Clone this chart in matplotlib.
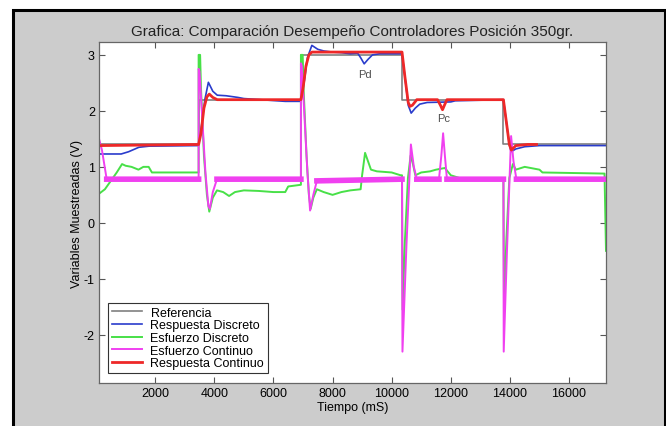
import numpy as np
import matplotlib
matplotlib.use("Agg")
import matplotlib.pyplot as plt
from matplotlib.patches import Rectangle

plt.rcParams['font.family'] = ['Liberation Sans', 'DejaVu Sans']
plt.rcParams['axes.unicode_minus'] = False

# ---------------- data ----------------
ref_t = [100, 3470, 3470, 6930, 6930, 10350, 10350, 13780, 13780, 17250]
ref_v = [1.4, 1.4, 2.2, 2.2, 3.0, 3.0, 2.2, 2.2, 1.4, 1.4]

bd_t = [100, 850, 1100, 1450, 1800, 3470, 3560, 3680, 3800, 3950, 4100, 4400, 4800, 5000,
        6400, 6930, 7050, 7150, 7300, 7500, 7700, 8000, 8300, 8600, 8850, 8950, 9070, 9200,
        9350, 9600, 10350, 10450, 10560, 10660, 10800, 10950, 11200, 12000, 12150, 13780,
        13880, 13980, 14040, 14200, 14500, 15000, 17250]
bd_v = [1.23, 1.23, 1.27, 1.35, 1.37, 1.38, 1.7, 2.2, 2.51, 2.35, 2.28, 2.27, 2.24, 2.22,
        2.17, 2.17, 2.55, 2.95, 3.17, 3.1, 3.07, 3.05, 3.04, 3.02, 3.03, 2.95, 2.84, 2.92,
        3.0, 3.02, 3.02, 2.6, 2.1, 1.96, 2.05, 2.12, 2.15, 2.16, 2.18, 2.2,
        1.8, 1.4, 1.27, 1.32, 1.36, 1.38, 1.38]

ed_t = [100, 300, 500, 700, 880, 1000, 1200, 1435, 1600, 1780, 1890, 3470, 3470, 3520,
        3550, 3650, 3750, 3830, 3950, 4090, 4300, 4500, 4700, 5000, 5500, 6000, 6400, 6500,
        6930, 6930, 6990, 7020, 7120, 7200, 7260, 7350, 7470, 7700, 8000, 8300, 8600, 8950,
        9000, 9100, 9200, 9300, 9500, 10000, 10300, 10350, 10370, 10450, 10550, 10640, 10720,
        10800, 11000, 11300, 11500, 11800, 12000, 12300, 13780, 13800, 13880, 13980, 14100,
        14200, 14500, 15000, 15100, 17200, 17250]
ed_v = [0.52, 0.6, 0.75, 0.9, 1.05, 1.02, 1.0, 0.95, 1.0, 1.0, 0.9, 0.9, 3.0, 3.0,
        2.4, 1.2, 0.5, 0.2, 0.45, 0.58, 0.55, 0.48, 0.55, 0.58, 0.57, 0.55, 0.55, 0.65,
        0.68, 3.0, 3.0, 2.4, 1.2, 0.5, 0.25, 0.45, 0.6, 0.55, 0.5, 0.55, 0.58, 0.6,
        0.85, 1.25, 1.1, 0.95, 0.92, 0.9, 0.85, 0.85, -1.55, -0.3, 0.8, 1.2, 1.05,
        0.85, 0.9, 0.92, 0.95, 0.98, 0.85, 0.8, 0.8, -1.5, -0.3, 0.8, 1.05,
        0.95, 1.0, 0.95, 0.9, 0.88, -0.5]

ec_t = [100, 200, 360, 3470, 3470, 3500, 3600, 3700, 3800, 3850, 3950, 4090, 6930, 6930,
        6960, 7050, 7150, 7240, 7350, 7470, 10350, 10365, 10500, 10650, 10750, 10850, 11600,
        11680, 11740, 11800, 11870, 13780, 13790, 13900, 14040, 14120, 14220, 17250]
ec_v = [1.5, 1.3, 0.78, 0.78, 2.75, 2.7, 1.8, 0.9, 0.3, 0.25, 0.55, 0.78, 0.78, 2.85,
        2.8, 1.9, 0.9, 0.22, 0.5, 0.75, 0.78, -2.3, -0.4, 1.4, 1.0, 0.78, 0.78,
        1.2, 1.6, 1.2, 0.78, 0.78, -2.3, -0.5, 1.55, 1.1, 0.78, 0.78]

rc_t = [100, 3470, 3550, 3650, 3750, 3830, 3950, 4100, 6930, 7000, 7100, 7200, 7300, 10350,
        10450, 10560, 10620, 10700, 10850, 11550, 11650, 11720, 11800, 11870, 13780, 13880,
        13980, 14050, 14200, 14600, 14900]
rc_v = [1.38, 1.4, 1.6, 2.05, 2.25, 2.3, 2.24, 2.2, 2.2, 2.4, 2.8, 3.0, 3.05, 3.05,
        2.6, 2.15, 2.08, 2.1, 2.2, 2.2, 2.1, 2.02, 2.12, 2.2, 2.2, 1.8,
        1.4, 1.3, 1.38, 1.4, 1.4]

labels = ['Referencia', 'Respuesta Discreto', 'Esfuerzo Discreto',
          'Esfuerzo Continuo', 'Respuesta Continuo']
colors = ['#808080', '#2a3ccc', '#48e048', '#f040f0', '#ee2828']
x_ticks = [2000, 4000, 6000, 8000, 10000, 12000, 14000, 16000]
y_ticks = [-2, -1, 0, 1, 2, 3]

# ---------------- figure ----------------
W, H = 666, 427
fig = plt.figure(figsize=(W / 100, H / 100), dpi=100, facecolor='white')
fig.patches.append(Rectangle((12.5 / W, -0.05), (664.5 - 12.5) / W, 1.05 - 10.5 / H,
                             transform=fig.transFigure, facecolor='#cccccc',
                             edgecolor='black', linewidth=2.2, zorder=-10))

ax = fig.add_axes([99 / W, 1 - 384 / H, 507 / W, 341 / H])
ax.set_zorder(5)
ax.set_facecolor('white')

ax.plot(ref_t, ref_v, color=colors[0], lw=1.2, label=labels[0])
ax.plot(bd_t, bd_v, color=colors[1], lw=1.2, label=labels[1])
ax.plot(ed_t, ed_v, color=colors[2], lw=1.4, label=labels[2])
ax.plot(ec_t, ec_v, color=colors[3], lw=1.4, label=labels[3])
ec_arr = np.array(ec_v)
ax.plot(ec_t, np.ma.masked_where(np.abs(ec_arr - 0.78) > 0.05, ec_arr),
        color=colors[3], lw=4.0)
ax.plot(rc_t, rc_v, color=colors[4], lw=2.0, label=labels[4])

ax.text(9100, 2.66, 'Pd', fontsize=8, color='#505050', ha='center', va='center')
ax.text(11770, 1.875, 'Pc', fontsize=8, color='#505050', ha='center', va='center')

ax.set_xlim(100, 17250)
ax.set_ylim(-2.86, 3.23)
ax.set_xticks(x_ticks)
ax.set_yticks(y_ticks)
ax.tick_params(direction='in', top=True, right=True, length=4, width=0.8,
               color='#555555', labelsize=9, pad=3)
for s in ax.spines.values():
    s.set_color('#666666')
    s.set_linewidth(0.9)

ax.set_title('Grafica: Comparación Desempeño Controladores Posición 350gr.',
             fontsize=11, color='#222222', pad=5)
ax.set_xlabel('Tiempo (mS)', fontsize=9, labelpad=1)
ax.set_ylabel('Variables Muestreadas (V)', fontsize=9, labelpad=0.5)

leg = ax.legend(loc='lower left', bbox_to_anchor=(9 / 507, 10 / 341), borderaxespad=0,
                fontsize=9, handlelength=2.4, labelspacing=0.05, borderpad=0.3,
                handletextpad=0.7, fancybox=False, framealpha=1, edgecolor='#333333')
leg.get_frame().set_linewidth(0.8)

fig.savefig('out.png', dpi=100, facecolor=fig.get_facecolor())
